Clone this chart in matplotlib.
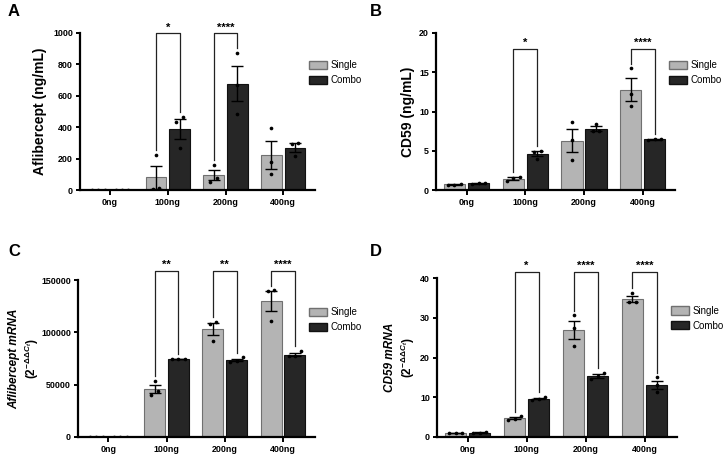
import numpy as np
import matplotlib
matplotlib.use("Agg")
import matplotlib.pyplot as plt
from matplotlib.patches import Patch

plt.rcParams['font.family'] = ['Liberation Sans', 'DejaVu Sans']
plt.rcParams['font.weight'] = 'bold'
plt.rcParams['mathtext.fontset'] = 'custom'
plt.rcParams['mathtext.rm'] = 'Liberation Sans:bold'
plt.rcParams['mathtext.it'] = 'Liberation Sans:italic:bold'
plt.rcParams['mathtext.bf'] = 'Liberation Sans:bold'

doses = ['0ng', '100ng', '200ng', '400ng']
groups = ['Single', 'Combo']

# replicates (n=3) per dose
afl_single = [[0, 0, 0], [225, 10, 5], [160, 79, 53], [394, 177, 102]]
afl_combo = [[0, 0, 0], [464, 436, 266], [872, 670, 485], [302, 291, 219]]

cd59_single = [[0.65, 0.8, 0.7], [1.7, 1.5, 1.1], [8.7, 6.4, 3.8], [15.5, 12.2, 10.7]]
cd59_combo = [[0.85, 0.9, 0.75], [5.0, 4.9, 4.0], [8.4, 7.5, 7.5], [6.5, 6.45, 6.35]]

aflm_single = [[0, 0, 0], [53500, 43500, 40500], [110000, 108000, 92000], [140000, 139500, 111000]]
aflm_combo = [[0, 0, 0], [75000, 74800, 74500], [76000, 73000, 72000], [82000, 77000, 77000]]

cdm_single = [[1.0, 1.05, 0.95], [5.2, 4.6, 4.4], [30.6, 27.5, 22.8], [36.3, 34.0, 33.9]]
cdm_combo = [[1.1, 1.2, 1.0], [10.0, 9.6, 9.4], [16.2, 15.4, 14.6], [15.0, 13.0, 11.3]]

# significance: (dose index, stars)
afl_sig = [(1, '*'), (2, '****')]
cd59_sig = [(1, '*'), (3, '****')]
aflm_sig = [(1, '**'), (2, '**'), (3, '****')]
cdm_sig = [(1, '*'), (2, '****'), (3, '****')]

SINGLE_C = '#b4b4b4'
COMBO_C = '#262626'
W = 0.36
OFF = 0.205


def spread(vals, ymax):
    # spread overlapping points sideways like prism does
    vals = np.asarray(vals, float)
    offs = np.zeros(len(vals))
    order = np.argsort(vals)
    tol = 0.035 * ymax
    clusters = [[order[0]]]
    for i in order[1:]:
        if vals[i] - vals[clusters[-1][-1]] < tol:
            clusters[-1].append(i)
        else:
            clusters.append([i])
    for c in clusters:
        n = len(c)
        for k, i in enumerate(c):
            offs[i] = (k - (n - 1) / 2) * 0.11
    return offs


def panel(ax, single, combo, sig, ymax, ystep, bracket_top, ylabel, lab_x, fsize=10):
    x = np.arange(len(doses))
    for data, sgn, col, ec in [(single, -1, SINGLE_C, '#707070'), (combo, 1, COMBO_C, '#111111')]:
        arr = np.array(data, float)
        means = arr.mean(axis=1)
        sem = arr.std(axis=1, ddof=1) / np.sqrt(arr.shape[1])
        xs = x + sgn * OFF
        ax.bar(xs, means, W, color=col, edgecolor=ec, linewidth=0.8, zorder=2)
        ax.errorbar(xs, means, yerr=sem, fmt='none', ecolor='black', elinewidth=1.0,
                    capsize=4, capthick=1.0, zorder=4)
        for xi, pts in zip(xs, arr):
            ax.scatter(xi + spread(pts, ymax), pts, s=7, color='black', zorder=5, linewidths=0)

    top = bracket_top * ymax
    for i, stars in sig:
        s = np.array(single[i], float)
        c = np.array(combo[i], float)
        s_hi = max(s.max(), s.mean() + s.std(ddof=1) / np.sqrt(3)) + 0.03 * ymax
        c_hi = max(c.max(), c.mean() + c.std(ddof=1) / np.sqrt(3)) + 0.03 * ymax
        xl, xr = i - OFF, i + OFF
        ax.plot([xl, xl, xr, xr], [s_hi, top, top, c_hi], color='#222222', lw=0.9,
                clip_on=False, zorder=3)
        ax.text(i, top + 0.035 * ymax, stars, ha='center', va='center', fontsize=8,
                fontweight='bold', clip_on=False)

    ax.set_xlim(-0.52, 3.55)
    ax.set_ylim(0, ymax)
    ax.set_yticks(np.arange(0, ymax + ystep / 2, ystep))
    ax.set_xticks(x)
    ax.set_xticklabels(doses)
    for sp in ['top', 'right']:
        ax.spines[sp].set_visible(False)
    for sp in ['left', 'bottom']:
        ax.spines[sp].set_linewidth(1.6)
    ax.tick_params(axis='both', width=1.4, length=3, labelsize=6.4, pad=2)
    ax.tick_params(axis='x', length=3.5, pad=2.5)
    for lab in ax.get_xticklabels() + ax.get_yticklabels():
        lab.set_fontweight('bold')
    ax.set_ylabel(ylabel, fontsize=fsize, fontweight='bold')
    ax.yaxis.set_label_coords(lab_x, 0.5)

    handles = [Patch(facecolor=SINGLE_C, edgecolor='#707070', label='Single'),
               Patch(facecolor=COMBO_C, edgecolor='#111111', label='Combo')]
    leg = ax.legend(handles=handles, loc='upper left', bbox_to_anchor=(0.975, 0.825),
                    frameon=False, fontsize=7, handlelength=1.8, handleheight=0.9,
                    handletextpad=0.4, labelspacing=0.5, borderaxespad=0, borderpad=0)
    for t in leg.get_texts():
        t.set_fontweight('normal')


fig = plt.figure(figsize=(7.26, 4.57), dpi=100)
W_PX, H_PX = 726, 457


def add_axes(l, r, t, b):
    return fig.add_axes([l / W_PX, 1 - b / H_PX, (r - l) / W_PX, (b - t) / H_PX])


axA = add_axes(80, 315, 33, 190)
axB = add_axes(436, 675, 33, 190)
axC = add_axes(78, 315, 280, 437)
axD = add_axes(437, 677, 278, 437)

panel(axA, afl_single, afl_combo, afl_sig, 1000, 200, 1.0, 'Aflibercept (ng/mL)', -0.14)
panel(axB, cd59_single, cd59_combo, cd59_sig, 20, 5, 0.9, 'CD59 (ng/mL)', -0.088)
panel(axC, aflm_single, aflm_combo, aflm_sig, 150000, 50000, 1.06,
      'Aflibercept mRNA\n' + r'$(2^{-\Delta\Delta C_t})$', -0.155, fsize=8.5)
panel(axD, cdm_single, cdm_combo, cdm_sig, 40, 10, 1.04,
      'CD59 mRNA\n' + r'$(2^{-\Delta\Delta C_t})$', -0.085, fsize=8.5)

# italic label style for the mRNA panels
for ax in (axC, axD):
    ax.yaxis.label.set_fontstyle('italic')

fig.text(8 / W_PX, 1 - 12 / H_PX, 'A', fontsize=12, fontweight='bold', va='center')
fig.text(370 / W_PX, 1 - 12 / H_PX, 'B', fontsize=12, fontweight='bold', va='center')
fig.text(8 / W_PX, 1 - 252 / H_PX, 'C', fontsize=12, fontweight='bold', va='center')
fig.text(370 / W_PX, 1 - 251 / H_PX, 'D', fontsize=12, fontweight='bold', va='center')

fig.savefig('out.png', dpi=100)
